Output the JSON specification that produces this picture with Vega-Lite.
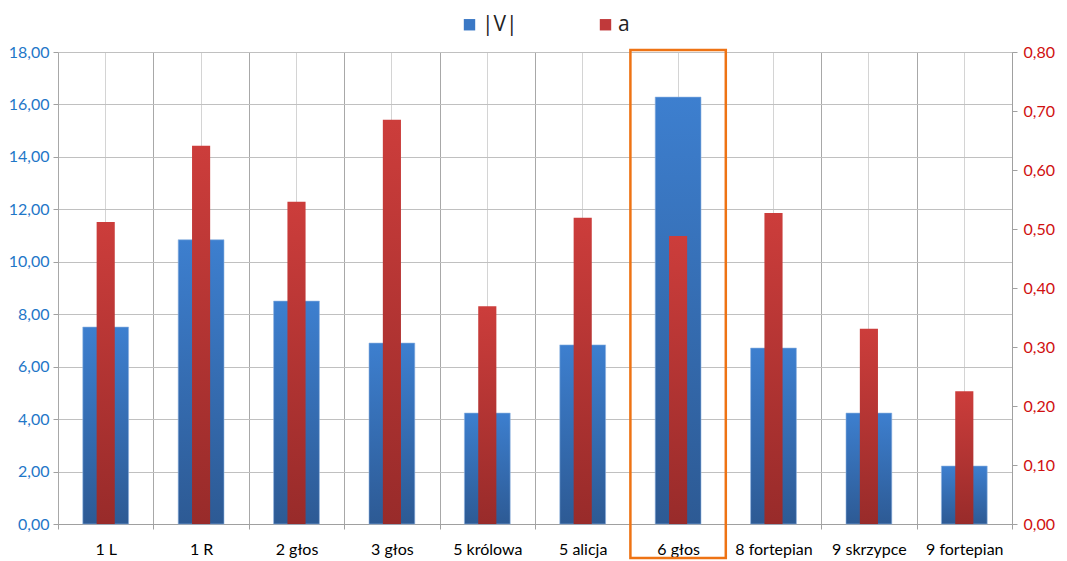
{
  "$schema": "https://vega.github.io/schema/vega-lite/v6.json",
  "autosize": {"type": "none"},
  "width": 954,
  "height": 472,
  "padding": {"left": 58, "top": 52, "right": 55, "bottom": 37},
  "background": "white",
  "config": {
    "view": {"stroke": null},
    "font": "Lato",
    "axis": {"labelFont": "Lato", "labelFontSize": 16}
  },
  "datasets": {
    "main": [
      {"cat": "1 L", "V": 7.51, "a": 0.512},
      {"cat": "1 R", "V": 10.84, "a": 0.641},
      {"cat": "2 głos", "V": 8.50, "a": 0.546},
      {"cat": "3 głos", "V": 6.90, "a": 0.685},
      {"cat": "5 królowa", "V": 4.23, "a": 0.369},
      {"cat": "5 alicja", "V": 6.83, "a": 0.519},
      {"cat": "6 głos", "V": 16.28, "a": 0.488},
      {"cat": "8 fortepian", "V": 6.71, "a": 0.527},
      {"cat": "9 skrzypce", "V": 4.23, "a": 0.331},
      {"cat": "9 fortepian", "V": 2.21, "a": 0.225}
    ],
    "box": [{"cat": "6 głos", "top": 18.08, "bottom": -1.3}]
  },
  "layer": [
    {
      "layer": [
        {
          "data": {"name": "main"},
          "mark": {
            "type": "bar",
            "width": {"band": 0.48},
            "stroke": "#8fb3e0",
            "strokeWidth": 0.6,
            "fill": {
              "gradient": "linear", "x1": 0, "y1": 0, "x2": 0, "y2": 1,
              "stops": [{"offset": 0, "color": "#3d7fcf"}, {"offset": 1, "color": "#2d5a94"}]
            }
          },
          "encoding": {
            "x": {
              "field": "cat", "type": "nominal", "sort": null, "title": null,
              "scale": {"paddingInner": 0, "paddingOuter": 0},
              "axis": {
                "tickBand": "extent", "grid": true, "gridColor": "#a8a8a8", "gridWidth": 1,
                "domainColor": "#a0a0a0", "tickColor": "#a0a0a0", "tickSize": 5,
                "labelAngle": 0, "labelColor": "#000000", "labelPadding": 12
              }
            },
            "y": {
              "field": "V", "type": "quantitative", "title": null,
              "scale": {"domain": [0, 18], "nice": false},
              "axis": {
                "orient": "left", "values": [0,2,4,6,8,10,12,14,16,18],
                "labelExpr": "replace(format(datum.value, '.2f'), '.', ',')",
                "labelColor": "#1f77c8", "grid": true, "gridColor": "#c0c0c0",
                "domain": false, "tickColor": "#a0a0a0", "tickSize": 5, "labelPadding": 4
              }
            }
          }
        },
        {
          "data": {"name": "box"},
          "mark": {"type": "rect", "fill": null, "stroke": "#ee7314", "strokeWidth": 2.5, "clip": false},
          "encoding": {
            "x": {"field": "cat", "type": "nominal", "sort": null},
            "y": {"field": "top", "type": "quantitative"},
            "y2": {"field": "bottom"}
          }
        },
        {
          "data": {"name": "main"},
          "transform": [{"fold": ["V", "a"], "as": ["series", "val"]}],
          "mark": {"type": "point", "opacity": 0, "filled": true},
          "encoding": {
            "x": {"field": "cat", "type": "nominal", "sort": null},
            "y": {"datum": 1, "type": "quantitative"},
            "color": {
              "field": "series", "type": "nominal",
              "scale": {"domain": ["V", "a"], "range": ["#3a78c5", "#c0393a"]},
              "legend": {
                "orient": "none", "legendX": 401, "legendY": -38, "direction": "horizontal",
                "title": null, "symbolType": "square", "symbolSize": 130, "symbolOpacity": 1,
                "symbolStrokeWidth": 0,
                "labelExpr": "datum.label == 'V' ? '|V|' : 'a'",
                "labelFontSize": 21, "labelFont": "Open Sans", "labelColor": "#222222",
                "columnPadding": 77, "labelOffset": 2, "padding": 0
              }
            }
          }
        }
      ]
    },
    {
      "data": {"name": "main"},
      "mark": {
        "type": "bar",
        "width": {"band": 0.19},
        "fill": {
          "gradient": "linear", "x1": 0, "y1": 0, "x2": 0, "y2": 1,
          "stops": [{"offset": 0, "color": "#cc3d3b"}, {"offset": 1, "color": "#982b2a"}]
        }
      },
      "encoding": {
        "x": {
          "field": "cat", "type": "nominal", "sort": null, "title": null,
          "axis": {"grid": true, "gridColor": "#d4d4d4", "labels": false, "ticks": false, "domain": false}
        },
        "y": {
          "field": "a", "type": "quantitative", "title": null,
          "scale": {"domain": [0, 0.8], "nice": false},
          "axis": {
            "orient": "right", "values": [0,0.1,0.2,0.3,0.4,0.5,0.6,0.7,0.8],
            "labelExpr": "replace(format(datum.value, '.2f'), '.', ',')",
            "labelColor": "#d01010", "grid": false,
            "domainColor": "#a0a0a0", "tickColor": "#a0a0a0", "tickSize": 5, "labelPadding": 6
          }
        }
      }
    }
  ],
  "resolve": {"scale": {"y": "independent"}, "axis": {"x": "independent"}}
}
